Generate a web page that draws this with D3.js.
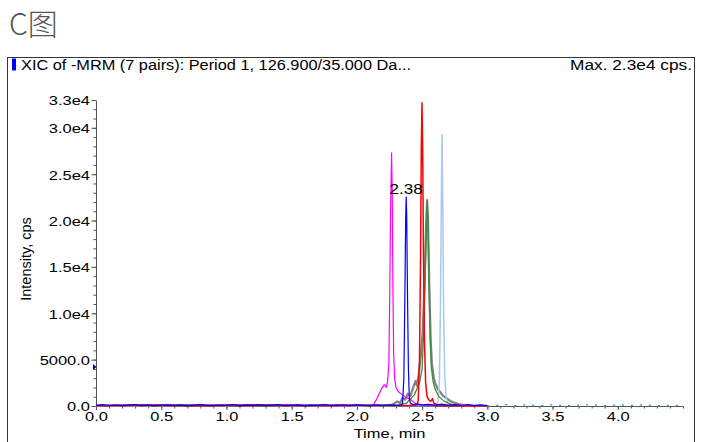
<!DOCTYPE html>
<html>
<head>
<meta charset="utf-8">
<script src="https://cdn.jsdelivr.net/npm/d3@7"></script>
<style>
  body { margin: 0; background: #fff; }
  svg { display: block; }
  text { font-family: "Liberation Sans", Arial, sans-serif; fill: #000; }
</style>
</head>
<body>
<div id="chart"></div>
<script>
// header / titles
var figTitle = "C图";
var headerLeft = "XIC of -MRM (7 pairs): Period 1, 126.900/35.000 Da...";
var headerRight = "Max. 2.3e4 cps.";
var xTitle = "Time, min";
var yTitle = "Intensity, cps";

// axes
var xDomain = [0, 4.5];
var yDomain = [0, 33000];
var xMajor = [0, 0.5, 1.0, 1.5, 2.0, 2.5, 3.0, 3.5, 4.0];
var xLabels = ["0.0", "0.5", "1.0", "1.5", "2.0", "2.5", "3.0", "3.5", "4.0"];
var yMajor = [0, 5000, 10000, 15000, 20000, 25000, 30000, 33000];
var yLabels = ["0.0", "5000.0", "1.0e4", "1.5e4", "2.0e4", "2.5e4", "3.0e4", "3.3e4"];
var thresholdLevel = 4200;
var peakLabel = { t: 2.378, v: 22550, text: "2.38" };

// traces: [time (min), intensity (cps)]
var tealTrace = [[3.0,20],[3.1,80],[3.15,160],[3.2,30],[3.3,120],[3.4,40],[3.5,140],[3.6,20],[3.7,90],
  [3.8,150],[3.9,30],[4.0,120],[4.1,60],[4.2,140],[4.3,20],[4.4,100],[4.5,40]];

var grayTrace = [[0,30],[0.5,90],[1.0,40],[1.5,100],[2.0,50],[2.25,60],[2.28,200],[2.31,500],[2.33,300],
  [2.35,900],[2.37,700],[2.39,1300],[2.41,1100],[2.43,1900],[2.45,2700],[2.46,2200],[2.475,3500],
  [2.49,5500],[2.505,8000],[2.52,14000],[2.53,19000],[2.538,22200],[2.545,20000],[2.555,13000],
  [2.565,7500],[2.575,4500],[2.59,3000],[2.6,2500],[2.62,1800],[2.64,1500],[2.66,1100],[2.68,900],
  [2.70,700],[2.72,500],[2.75,350],[2.78,200],[2.82,100],[2.9,50],[3.0,20]];

var lightBlueTrace = [[0,20],[1.0,80],[2.0,40],[2.6,60],[2.62,300],[2.632,2500],[2.641,11000],
  [2.648,23000],[2.653,29300],[2.658,23000],[2.665,10000],[2.674,3000],[2.685,800],[2.70,250],
  [2.75,80],[3.0,20]];

var greenTrace = [[0,40],[0.7,110],[1.4,30],[2.1,90],[2.3,40],[2.38,300],[2.44,1200],[2.48,2500],
  [2.50,4000],[2.515,9000],[2.527,16000],[2.535,21000],[2.540,22000],[2.546,19500],[2.553,13000],
  [2.562,7000],[2.572,4000],[2.585,2600],[2.6,1800],[2.63,1000],[2.67,500],[2.72,200],[2.8,60],[3.0,20]];

var magentaTrace = [[0,40],[0.3,120],[0.6,30],[0.9,90],[1.2,50],[1.5,110],[1.8,20],[2.1,60],[2.13,200],
  [2.15,700],[2.17,1300],[2.19,1900],[2.21,2300],[2.225,2000],[2.235,2600],[2.245,4500],[2.252,12000],
  [2.258,21000],[2.266,27300],[2.271,23000],[2.276,13000],[2.282,5500],[2.29,2900],[2.3,2000],
  [2.32,1500],[2.35,1200],[2.38,900],[2.41,700],[2.43,500],[2.45,250],[2.48,100],[2.55,60],[2.7,30],[3.0,20]];

var redTrace = [[0,20],[0.4,100],[0.8,40],[1.2,130],[1.6,60],[2.0,90],[2.4,50],[2.46,100],[2.47,600],
  [2.48,5000],[2.488,16000],[2.494,28000],[2.499,32700],[2.504,28000],[2.51,17000],[2.518,7000],
  [2.527,2500],[2.538,1000],[2.55,700],[2.565,500],[2.58,800],[2.59,300],[2.62,100],[2.8,40],[3.0,20]];

var blueTrace = [[0,60],[0.05,150],[0.1,30],[0.15,110],[0.2,20],[0.25,90],[0.3,140],[0.35,40],[0.4,100],
  [0.45,10],[0.5,80],[0.55,130],[0.6,50],[0.65,120],[0.7,20],[0.75,90],[0.8,150],[0.85,60],[0.9,30],
  [0.95,110],[1.0,70],[1.05,140],[1.1,20],[1.15,100],[1.2,60],[1.25,130],[1.3,40],[1.35,90],[1.4,150],
  [1.45,30],[1.5,80],[1.55,120],[1.6,20],[1.65,100],[1.7,60],[1.75,140],[1.8,30],[1.85,90],[1.9,110],
  [1.95,40],[2.0,130],[2.05,70],[2.1,20],[2.15,100],[2.2,50],[2.25,120],[2.3,60],[2.34,90],[2.35,300],
  [2.36,3000],[2.368,12000],[2.374,20000],[2.378,22550],[2.382,20500],[2.388,12000],[2.395,4000],
  [2.402,900],[2.41,300],[2.43,150],[2.47,200],[2.5,120],[2.55,180],[2.6,90],[2.65,200],[2.7,60],
  [2.75,150],[2.8,80],[2.85,160],[2.9,40],[2.95,120],[3.0,30]];

// drawing order: back to front
var traces = [
  { data: tealTrace, color: "#1fa3a3", width: 1.2, dash: "2,7" },
  { data: grayTrace, color: "#808080", width: 2.2 },
  { data: lightBlueTrace, color: "#a9c9ee", width: 1.5 },
  { data: greenTrace, color: "#3f8a45", width: 1.3 },
  { data: magentaTrace, color: "#ff00ff", width: 1.2 },
  { data: redTrace, color: "#ff0000", width: 1.5 },
  { data: blueTrace, color: "#0000ff", width: 1.2 }
];

var W = 709, H = 442;
var stretch = 1.22; // horizontal text stretch seen in the reference

var svg = d3.select('#chart').append('svg')
  .attr('width', W)
  .attr('height', H);

svg.append('text')
  .attr('x', 9)
  .attr('y', 35)
  .style('font-family', '"Noto Sans CJK SC", "Noto Sans", sans-serif')
  .style('font-size', '30px')
  .style('font-weight', 300)
  .style('fill', '#555')
  .text(figTitle);

// frame
svg.append('rect')
  .attr('x', 7.5).attr('y', 57.5)
  .attr('width', 687).attr('height', 420)
  .attr('fill', 'none')
  .attr('stroke', '#333')
  .attr('stroke-width', 1);

svg.append('rect')
  .attr('x', 12).attr('y', 58.5)
  .attr('width', 4).attr('height', 12)
  .attr('fill', '#0000ff');

svg.append('text')
  .attr('x', 21).attr('y', 69.5)
  .attr('textLength', 390)
  .attr('lengthAdjust', 'spacingAndGlyphs')
  .style('font-size', '14px')
  .text(headerLeft);

svg.append('text')
  .attr('x', 692).attr('y', 69.5)
  .attr('text-anchor', 'end')
  .attr('textLength', 122)
  .attr('lengthAdjust', 'spacingAndGlyphs')
  .style('font-size', '14px')
  .text(headerRight);

var x = d3.scaleLinear().domain(xDomain).range([96, 683]);
var y = d3.scaleLinear().domain(yDomain).range([406, 100]);

// minor ticks
var yMinor = d3.range(0, 33001, 1000);
var xMinor = d3.range(0, 46).map(function(i){ return i / 10; });

svg.append('g')
  .attr('transform', 'translate(' + x(0) + ',0)')
  .call(d3.axisLeft(y).tickValues(yMinor).tickSize(2.5).tickSizeOuter(0).tickFormat(''))
  .call(function(g){ g.select('.domain').remove(); });

svg.append('g')
  .attr('transform', 'translate(0,' + y(0) + ')')
  .call(d3.axisBottom(x).tickValues(xMinor).tickSize(2.5).tickSizeOuter(0).tickFormat(''))
  .call(function(g){ g.select('.domain').remove(); });

// major axes
var yAxis = svg.append('g')
  .attr('transform', 'translate(' + x(0) + ',0)')
  .call(d3.axisLeft(y).tickValues(yMajor).tickSize(4.5).tickSizeOuter(0)
    .tickFormat(function(d, i){ return yLabels[i]; }));

yAxis.selectAll('text')
  .attr('x', -6 / stretch)
  .attr('dy', '0.36em')
  .attr('transform', 'scale(' + stretch + ',1)')
  .style('font-size', '13.5px')
  .style('font-family', '"Liberation Sans", Arial, sans-serif')
  .style('fill', '#000');

var xAxis = svg.append('g')
  .attr('transform', 'translate(0,' + y(0) + ')')
  .call(d3.axisBottom(x).tickValues(xMajor).tickSize(4).tickSizeOuter(0)
    .tickFormat(function(d, i){ return xLabels[i]; }));

xAxis.selectAll('text')
  .attr('y', 15)
  .attr('dy', 0)
  .attr('transform', 'scale(' + stretch + ',1)')
  .style('font-size', '13.5px')
  .style('font-family', '"Liberation Sans", Arial, sans-serif')
  .style('fill', '#000');

svg.selectAll('.domain').attr('stroke', '#555');
svg.selectAll('.tick').selectAll('line').attr('stroke', '#555');

// axis titles
svg.append('text')
  .attr('transform', 'translate(' + ((x(0) + x(4.5)) / 2) + ',438) scale(' + stretch + ',1)')
  .attr('text-anchor', 'middle')
  .style('font-size', '13.5px')
  .text(xTitle);

svg.append('text')
  .attr('transform', 'translate(31,259) rotate(-90)')
  .attr('text-anchor', 'middle')
  .style('font-size', '14.5px')
  .text(yTitle);

// traces
var line = d3.line()
  .x(function(d){ return x(d[0]); })
  .y(function(d){ return y(d[1]); });

var plot = svg.append('g');

traces.forEach(function(tr){
  plot.append('path')
    .attr('d', line(tr.data))
    .attr('fill', 'none')
    .attr('stroke', tr.color)
    .attr('stroke-width', tr.width)
    .attr('stroke-linejoin', 'round')
    .attr('stroke-dasharray', tr.dash || null);
});

// threshold marker on y axis
var ty = y(thresholdLevel);
svg.append('path')
  .attr('d', 'M' + (x(0) - 3) + ',' + (ty - 3) + 'L' + (x(0) + 0.5) + ',' + ty + 'L' + (x(0) - 3) + ',' + (ty + 3) + 'Z')
  .attr('fill', '#0000aa');

// peak label
svg.append('text')
  .attr('transform', 'translate(' + x(peakLabel.t) + ',' + (y(peakLabel.v) - 3) + ') scale(' + stretch + ',1)')
  .attr('text-anchor', 'middle')
  .style('font-size', '14px')
  .text(peakLabel.text);
</script>
</body>
</html>
